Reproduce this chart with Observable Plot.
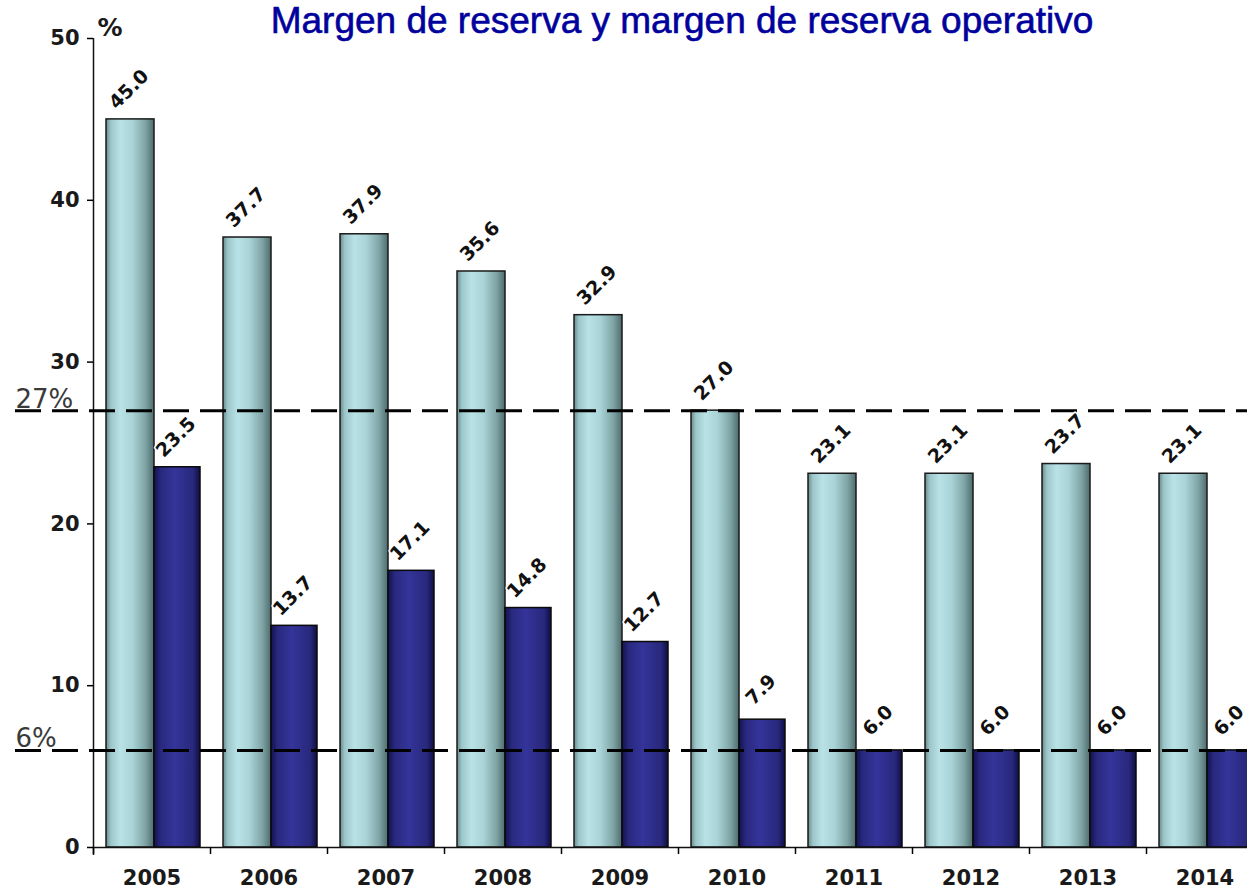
<!DOCTYPE html>
<html><head><meta charset="utf-8">
<script src="https://cdn.jsdelivr.net/npm/d3@7"></script>
<script src="https://cdn.jsdelivr.net/npm/@observablehq/plot@0.6"></script>
<style>
html,body{margin:0;padding:0;background:#fff;overflow:hidden;}
#wrap{position:relative;width:1247px;height:892px;overflow:hidden;}
#title{position:absolute;left:117px;top:0;width:1130px;text-align:center;font-family:"Liberation Sans",Arial,sans-serif;font-size:37px;line-height:42px;color:#00009c;white-space:nowrap;-webkit-text-stroke:0.6px #00009c;}
</style></head><body>
<div id="wrap"><div id="chart"></div><div id="title">Margen de reserva y margen de reserva operativo</div></div>
<script>
const years = ["2005","2006","2007","2008","2009","2010","2011","2012","2013","2014"];
const reserva = [45.0, 37.7, 37.9, 35.6, 32.9, 27.0, 23.1, 23.1, 23.7, 23.1];
const operativo = [23.5, 13.7, 17.1, 14.8, 12.7, 7.9, 6.0, 6.0, 6.0, 6.0];
const thresholds = [27, 6];
const thresholdLabels = ["27%", "6%"];
const yTicks = [0, 10, 20, 30, 40, 50];

const data = years.map((year, i) => ({year, reserva: reserva[i], operativo: operativo[i]}));
const half = 58.5;

const plot = Plot.plot({
  width: 1247, height: 892,
  marginTop: 38, marginBottom: 45, marginLeft: 93, marginRight: 0,
  style: {fontFamily: "DejaVu Sans", background: "white", overflow: "hidden"},
  x: {domain: years, range: [93, 1263], padding: 0},
  y: {domain: [0, 50]},
  marks: [
    Plot.barY(data, {x: "year", y: "reserva", fill: "url(#gLight)", stroke: "#1a1a1a", strokeWidth: 1.5, insetLeft: 13, insetRight: 56}),
    Plot.barY(data, {x: "year", y: "operativo", fill: "url(#gDark)", stroke: "#0a0a0a", strokeWidth: 1.5, insetLeft: 61, insetRight: 10}),
    Plot.ruleY([0], {stroke: "#111", strokeWidth: 1.5}),
    Plot.ruleX([years[0]], {dx: -half, stroke: "#111", strokeWidth: 1.5, insetBottom: -8}),
    Plot.axisX({tickSize: 7, tickFormat: () => "", dx: -half, label: null, strokeWidth: 1.5}),
    Plot.axisX({tickSize: 0, tickPadding: 23, fontSize: 21, fontWeight: "bold", label: null, fill: "#1a1a1a"}),
    Plot.axisY({ticks: yTicks, tickSize: 6, tickPadding: 8, fontSize: 21, fontWeight: "bold", label: null, strokeWidth: 1.5, fill: "#1a1a1a"}),
    Plot.text(["%"], {frameAnchor: "top-left", dx: 4, dy: -20, text: d => d, fontSize: 25, fontWeight: "bold", fill: "#1a1a1a"}),
    Plot.ruleY(thresholds, {stroke: "#000", strokeWidth: 3, strokeDasharray: "26,11", insetLeft: -78}),
    Plot.text(thresholds, {y: d => d, text: (d, i) => thresholdLabels[i], frameAnchor: "left", dx: -78, dy: -3, textAnchor: "start", lineAnchor: "bottom", fontSize: 26, fill: "#3a3a3a"}),
    Plot.text(data, {x: "year", y: "reserva", text: d => d.reserva.toFixed(1), dx: -23, dy: -30, rotate: -45, fontSize: 19, fontWeight: "bold", fill: "#111", stroke: "white", strokeWidth: 3, paintOrder: "stroke"}),
    Plot.text(data, {x: "year", y: "operativo", text: d => d.operativo.toFixed(1), dx: 24, dy: -30, rotate: -45, fontSize: 19, fontWeight: "bold", fill: "#111", stroke: "white", strokeWidth: 3, paintOrder: "stroke"})
  ]
});
plot.insertAdjacentHTML("afterbegin", `<defs>
<linearGradient id="gLight" x1="0" x2="1" y1="0" y2="0">
<stop offset="0" stop-color="#6a8a8b"/><stop offset="0.1" stop-color="#9cc6c9"/>
<stop offset="0.3" stop-color="#b9e2e6"/><stop offset="0.55" stop-color="#a9d3d6"/>
<stop offset="0.82" stop-color="#7fa4a6"/><stop offset="1" stop-color="#4e6b6c"/>
</linearGradient>
<linearGradient id="gDark" x1="0" x2="1" y1="0" y2="0">
<stop offset="0" stop-color="#12124e"/><stop offset="0.15" stop-color="#29297f"/>
<stop offset="0.45" stop-color="#34349a"/><stop offset="0.85" stop-color="#28287c"/>
<stop offset="1" stop-color="#0e0e44"/>
</linearGradient></defs>`);
document.getElementById("chart").appendChild(plot);
</script>
</body></html>
